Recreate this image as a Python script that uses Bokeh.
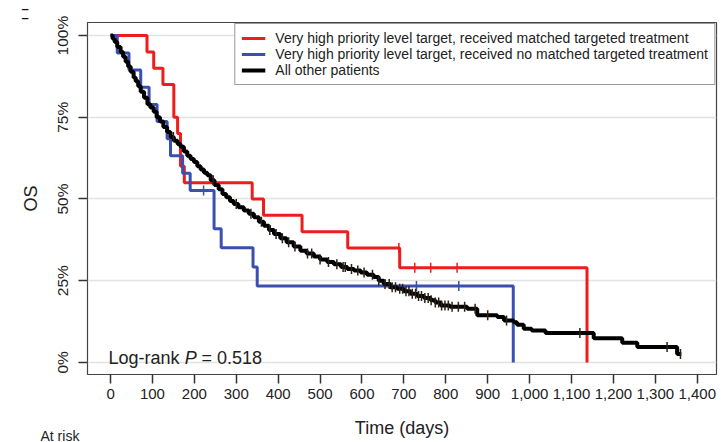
import numpy as np
from bokeh.plotting import figure
from bokeh.models import (FixedTicker, NumeralTickFormatter, Legend, LegendItem,
                          Label, Range1d)
from bokeh.embed import file_html
from bokeh.resources import INLINE

FONT = "Liberation Sans"

# ---------------- data ----------------
red_time = [0, 87, 103, 125, 151, 160, 167, 176, 338, 365, 457, 566, 690, 1137]
red_surv = [1.0, 0.95, 0.90, 0.85, 0.75, 0.70, 0.60, 0.55, 0.50, 0.45, 0.40, 0.35, 0.29, 0.0]
red_cens = [688, 726, 764, 827]

blue_time = [0, 16, 44, 72, 92, 111, 135, 143, 172, 190, 247, 264, 340, 350, 961]
blue_surv = [1.0, 0.947, 0.895, 0.842, 0.789, 0.737, 0.684, 0.632, 0.579, 0.526,
             0.409, 0.351, 0.292, 0.234, 0.0]
blue_cens = [222, 730, 831]

black_time = [0, 5, 10, 16, 24, 30, 36, 42, 48, 55, 60, 66, 72, 80, 88, 95, 103, 110,
              118, 126, 135, 143, 151, 160, 167, 175, 183, 191, 199, 207, 215, 223, 231,
              239, 248, 258, 267, 276, 285, 294, 305, 318, 330, 342, 354, 366, 378, 390,
              405, 420, 437, 453, 468, 485, 500, 517, 533, 550, 565, 581, 597, 612, 628,
              640, 652, 668, 684, 700, 716, 732, 748, 764, 775, 788, 810, 851, 875, 923,
              939, 962, 970, 986, 1005, 1038, 1153, 1221, 1257, 1352, 1362]
black_surv = [1.0, 0.99, 0.98, 0.965, 0.95, 0.935, 0.92, 0.905, 0.889, 0.872, 0.86,
              0.845, 0.828, 0.81, 0.79, 0.78, 0.767, 0.75, 0.737, 0.72, 0.705, 0.69,
              0.678, 0.668, 0.66, 0.645, 0.632, 0.622, 0.613, 0.6, 0.59, 0.58, 0.573,
              0.557, 0.543, 0.53, 0.515, 0.505, 0.494, 0.485, 0.475, 0.465, 0.455,
              0.444, 0.43, 0.418, 0.405, 0.393, 0.38, 0.368, 0.355, 0.342, 0.333,
              0.324, 0.315, 0.307, 0.30, 0.292, 0.286, 0.281, 0.275, 0.268, 0.261,
              0.25, 0.24, 0.23, 0.225, 0.218, 0.21, 0.203, 0.197, 0.19, 0.183, 0.174,
              0.17, 0.164, 0.144, 0.139, 0.128, 0.123, 0.115, 0.103, 0.098, 0.09,
              0.074, 0.06, 0.047, 0.026, 0.026]
black_cens = [150, 245, 300, 335, 360, 380, 395, 410, 425, 440, 470, 480, 500, 520,
              540, 555, 560, 575, 590, 605, 625, 640, 655, 665, 672, 680, 690, 697,
              705, 712, 720, 728, 735, 742, 750, 758, 765, 775, 783, 790, 798, 806,
              815, 830, 845, 870, 900, 945, 1120, 1328, 1360]

x_ticks = list(range(0, 1401, 100))
y_ticks = [0, 0.25, 0.5, 0.75, 1.0]
y_labels = ["0%", "25%", "50%", "75%", "100%"]

legend_labels = ["Very high priority level target, received matched targeted treatment",
                 "Very high priority level target, received no matched targeted treatment",
                 "All other patients"]

RED = "#ee1c1c"
BLUE = "#3a4fb0"
BLACK = "#000000"


def km_at(times, surv, t):
    i = int(np.searchsorted(np.asarray(times), t, side="right")) - 1
    return surv[i]


p = figure(width=721, height=442, x_range=Range1d(-55, 1446), y_range=Range1d(-0.037, 1.04),
           output_backend="svg", toolbar_location=None,
           min_border_left=87, min_border_right=5, min_border_top=22, min_border_bottom=68)
p.background_fill_color = "white"
p.border_fill_color = "white"
p.outline_line_color = "#444444"
p.outline_line_width = 1.2

# axes
p.xaxis.ticker = FixedTicker(ticks=x_ticks)
p.xaxis.formatter = NumeralTickFormatter(format="0,0")
p.yaxis.ticker = FixedTicker(ticks=y_ticks)
p.yaxis.major_label_overrides = {t: l for t, l in zip(y_ticks, y_labels)}
p.yaxis.major_label_orientation = "vertical"
for ax in (p.xaxis[0], p.yaxis[0]):
    ax.axis_line_color = None
    ax.major_tick_out = 9
    ax.major_tick_in = 0
    ax.minor_tick_out = 0
    ax.minor_tick_in = 0
    ax.major_tick_line_color = "#333333"
    ax.major_tick_line_width = 1.5
    ax.major_label_text_font = FONT
    ax.major_label_text_font_size = "15px"
    ax.major_label_text_color = "#222222"
    ax.axis_label_text_font = FONT
    ax.axis_label_text_font_style = "normal"
    ax.axis_label_text_font_size = "18px"
    ax.axis_label_text_color = "#222222"
p.yaxis.major_label_text_font_size = "15.5px"
p.xaxis.axis_label = "Time (days)"
p.yaxis.axis_label = "OS"
p.xaxis.major_label_standoff = 5
p.yaxis.major_label_standoff = 7
p.xaxis.axis_label_standoff = 16
p.yaxis.axis_label_standoff = 11

p.xgrid.visible = False
p.ygrid.ticker = FixedTicker(ticks=y_ticks)
p.ygrid.grid_line_color = "#e2e2e2"
p.ygrid.grid_line_width = 1.5

# curves
r_red = p.step(red_time, red_surv, mode="after", line_color=RED, line_width=3)
r_blue = p.step(blue_time, blue_surv, mode="after", line_color=BLUE, line_width=3)
r_black = p.step(black_time, black_surv, mode="after", line_color=BLACK, line_width=4)

# censor marks
p.scatter(red_cens, [km_at(red_time, red_surv, t) for t in red_cens], marker="dash",
          angle=np.pi / 2, size=10, line_color=RED, line_width=1.5)
p.scatter(blue_cens, [km_at(blue_time, blue_surv, t) for t in blue_cens], marker="dash",
          angle=np.pi / 2, size=10, line_color=BLUE, line_width=1.5)
p.scatter(black_cens, [km_at(black_time, black_surv, t) for t in black_cens], marker="dash",
          angle=np.pi / 2, size=10, line_color="#2a2018", line_width=1.5)

legend = Legend(items=[LegendItem(label=legend_labels[0], renderers=[r_red]),
                       LegendItem(label=legend_labels[1], renderers=[r_blue]),
                       LegendItem(label=legend_labels[2], renderers=[r_black])],
                location="top_right", margin=1, padding=6, spacing=-2,
                glyph_width=24, glyph_height=12, label_height=12, label_standoff=10,
                label_text_font=FONT, label_text_font_size="14px",
                label_text_color="#222222", border_line_color="#333333",
                border_line_width=1.2, background_fill_alpha=1.0)
p.add_layout(legend)

# log-rank annotation
p.add_layout(Label(x=-5, y=0.015, text="Log-rank", text_font=FONT, text_font_size="18px",
                   text_baseline="middle", text_color="#222222"))
p.add_layout(Label(x=177, y=0.015, text="P", text_font=FONT, text_font_size="18px",
                   text_font_style="italic", text_baseline="middle", text_color="#222222"))
p.add_layout(Label(x=217, y=0.015, text="= 0.518", text_font=FONT, text_font_size="18px",
                   text_baseline="middle", text_color="#222222"))

# "At risk" heading near the bottom edge (lives in the top side panel, drawn far below)
p.add_layout(Label(x=-47, y=-405, x_units="screen", y_units="screen", text="At risk",
                   text_font=FONT, text_font_size="14px", text_baseline="top",
                   text_color="#222222"), "above")

# small fragment marks at the top-left corner (left side panel)
for xx, yy in ((11, 366), (18, 357)):
    p.add_layout(Label(x=xx, y=yy, x_units="screen", y_units="screen", text="\u2013",
                       text_font=FONT, text_font_size="13px", text_font_style="bold",
                       text_baseline="middle", text_color="#111111"), "left")

open("out.html", "w").write(file_html(p, INLINE))
